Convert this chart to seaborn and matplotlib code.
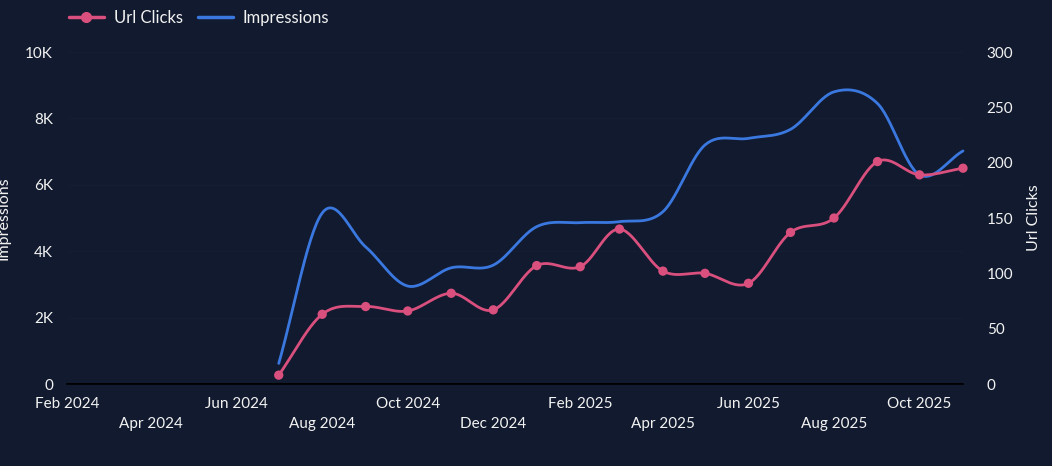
import numpy as np
import pandas as pd
import matplotlib
matplotlib.use("Agg")
import matplotlib.pyplot as plt
import matplotlib.dates as mdates
from matplotlib.ticker import FixedLocator, FuncFormatter
from matplotlib.lines import Line2D
import seaborn as sns

# ---- data ----
months = ["2024-07", "2024-08", "2024-09", "2024-10", "2024-11", "2024-12",
          "2025-01", "2025-02", "2025-03", "2025-04", "2025-05", "2025-06",
          "2025-07", "2025-08", "2025-09", "2025-10", "2025-11"]
url_clicks = [8, 63, 70, 66, 82, 67, 107, 106, 140, 102, 100, 91, 137, 150, 201, 189, 195]
impressions = [620, 5150, 4130, 2950, 3500, 3580, 4740, 4860, 4890, 5190, 7200, 7400,
               7670, 8800, 8450, 6300, 7020]
tick_months = ["2024-02", "2024-04", "2024-06", "2024-08", "2024-10", "2024-12",
               "2025-02", "2025-04", "2025-06", "2025-08", "2025-10"]
imp_ticks = [0, 2000, 4000, 6000, 8000, 10000]
click_ticks = [0, 50, 100, 150, 200, 250, 300]

BG = "#111a2e"
PINK = "#d94f7e"
BLUE = "#3a78e0"
TXT = "#f2f2f2"

sns.set_theme(style="dark")
plt.rcParams["font.family"] = ["Lato", "DejaVu Sans"]


def catmull_rom(x, y, n=30):
    x = np.asarray(x, float)
    y = np.asarray(y, float)
    xs, ys = [], []
    N = len(x)
    for i in range(N - 1):
        i0, i3 = max(i - 1, 0), min(i + 2, N - 1)
        t = np.linspace(0, 1, n, endpoint=(i == N - 2))
        h00 = 2 * t**3 - 3 * t**2 + 1
        h10 = t**3 - 2 * t**2 + t
        h01 = -2 * t**3 + 3 * t**2
        h11 = t**3 - t**2
        for arr, out in ((x, xs), (y, ys)):
            m1 = (arr[i + 1] - arr[i0]) / 2 if i > 0 else (arr[i + 1] - arr[i])
            m2 = (arr[i3] - arr[i]) / 2 if i + 2 < N else (arr[i + 1] - arr[i])
            out.append(h00 * arr[i] + h10 * m1 + h01 * arr[i + 1] + h11 * m2)
    return np.concatenate(xs), np.concatenate(ys)


dates = pd.to_datetime([m + "-01" for m in months])
xnum = mdates.date2num(dates)

fig = plt.figure(figsize=(10.52, 4.66), dpi=100, facecolor=BG)
ax = fig.add_axes([67 / 1052, 1 - 384 / 466, 896 / 1052, 332 / 466])
ax.set_facecolor(BG)
ax2 = ax.twinx()

sx, sy = catmull_rom(xnum, impressions)
sns.lineplot(x=mdates.num2date(sx), y=sy, ax=ax, color=BLUE, lw=2.0, sort=False, clip_on=False)

cx, cy = catmull_rom(xnum, url_clicks)
sns.lineplot(x=mdates.num2date(cx), y=cy, ax=ax2, color=PINK, lw=2.0, sort=False, clip_on=False)
sns.scatterplot(x=dates, y=url_clicks, ax=ax2, color=PINK, s=45, edgecolor="none",
                clip_on=False, zorder=5)

xmin = mdates.date2num(pd.Timestamp("2024-02-01"))
xmax = mdates.date2num(pd.Timestamp("2025-11-01"))
for a in (ax, ax2):
    a.set_xlim(xmin, xmax)
    a.grid(False)
    for s in a.spines.values():
        s.set_visible(False)

ax.set_ylim(0, 10000)
ax2.set_ylim(0, 300)
ax.spines["bottom"].set_visible(True)
ax.spines["bottom"].set_color("#000000")
ax.spines["bottom"].set_linewidth(1.2)

ax.yaxis.set_major_locator(FixedLocator(imp_ticks))
ax.yaxis.set_major_formatter(FuncFormatter(lambda v, p: "0" if v == 0 else f"{int(v/1000)}K"))
ax2.yaxis.set_major_locator(FixedLocator(click_ticks))
ax2.yaxis.set_major_formatter(FuncFormatter(lambda v, p: f"{int(v)}"))

ax.axhline(0, color="#000000", lw=1.2, zorder=1)
for v in imp_ticks[1:]:
    ax.axhline(v, color="#141d32", lw=0.8, zorder=0)

tdates = pd.to_datetime([m + "-01" for m in tick_months])
tnum = mdates.date2num(tdates)
ax.xaxis.set_major_locator(FixedLocator(tnum[0::2]))
ax.xaxis.set_major_formatter(FuncFormatter(lambda v, p: mdates.num2date(v).strftime("%b %Y")))
ax.xaxis.set_minor_locator(FixedLocator(tnum[1::2]))
ax.xaxis.set_minor_formatter(FuncFormatter(lambda v, p: mdates.num2date(v).strftime("%b %Y")))
ax.tick_params(axis="x", which="major", length=0, pad=9, labelsize=11, labelcolor=TXT)
ax.tick_params(axis="x", which="minor", length=0, pad=24, labelsize=11, labelcolor=TXT)
ax2.tick_params(axis="x", which="both", length=0, labelbottom=False)
ax.tick_params(axis="y", length=0, pad=10, labelsize=11, labelcolor=TXT)
ax2.tick_params(axis="y", length=0, pad=17, labelsize=11, labelcolor=TXT)

ax.set_xlabel("")
ax.set_ylabel("Impressions", color=TXT, fontsize=11.5)
ax.yaxis.set_label_coords(-0.0636, 0.5)
ax2.set_ylabel("Url Clicks", color=TXT, fontsize=11.5)
ax2.yaxis.set_label_coords(1.0714, 0.5)

handles = [Line2D([], [], color=PINK, lw=2.5, marker="o", markersize=7),
           Line2D([], [], color=BLUE, lw=2.5)]
fig.legend(handles, ["Url Clicks", "Impressions"], loc="center left",
           bbox_to_anchor=(62 / 1052, 1 - 18 / 466), ncol=2, frameon=False,
           fontsize=12, labelcolor=TXT, handlelength=2.1, handletextpad=0.6,
           columnspacing=0.9, borderaxespad=0)

fig.savefig("out.png", dpi=100, facecolor=BG)
